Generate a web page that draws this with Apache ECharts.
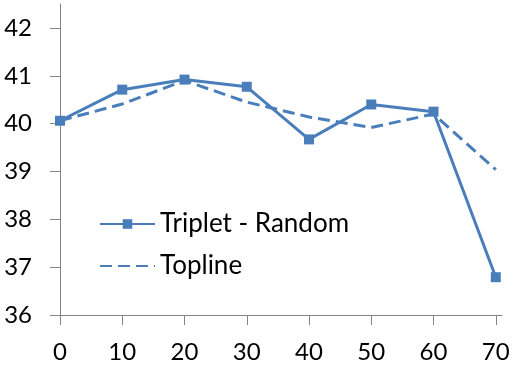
<!DOCTYPE html>
<html><head><meta charset="utf-8">
<script src="https://cdn.jsdelivr.net/npm/echarts@6/dist/echarts.min.js"></script>
<style>html,body{margin:0;padding:0;background:#fff}#c{width:515px;height:367px}</style>
</head><body><div id="c"></div>
<script>
const xValues = [0, 10, 20, 30, 40, 50, 60, 70];
const tripletRandom = [40.06, 40.71, 40.92, 40.77, 39.67, 40.40, 40.25, 36.79];
const topline = [40.06, 40.41, 40.90, 40.45, 40.14, 39.92, 40.20, 39.04];
const yTicks = [36, 37, 38, 39, 40, 41, 42];

const color = '#4A7EBB';
const axisColor = '#868686';
const font = 'Lato';
const chart = echarts.init(document.getElementById('c'));
chart.setOption({
  animation: false,
  grid: { left: 60, right: 13, top: 4, bottom: 52 },
  xAxis: {
    type: 'value', min: 0, max: 71,
    axisLine: { lineStyle: { color: axisColor, width: 1 } },
    axisTick: { show: true, length: 10, inside: false, customValues: xValues, lineStyle: { color: axisColor } },
    axisLabel: { customValues: xValues, margin: 25, color: '#000', fontFamily: font, fontSize: 24 },
    splitLine: { show: false }
  },
  yAxis: {
    type: 'value', min: 36, max: 42.5,
    axisLine: { show: true, lineStyle: { color: axisColor, width: 1 } },
    axisTick: { show: true, length: 10, customValues: yTicks, lineStyle: { color: axisColor } },
    axisLabel: { customValues: yTicks, margin: 28, color: '#000', fontFamily: font, fontSize: 24 },
    splitLine: { show: false }
  },
  legend: {
    orient: 'vertical', left: 94, top: 205,
    itemWidth: 55, itemHeight: 12, itemGap: 14,
    textStyle: { color: '#000', fontFamily: font, fontSize: 26, lineHeight: 28 },
    data: [
      { name: 'Triplet - Random' },
      { name: 'Topline', itemStyle: { opacity: 0 } }
    ]
  },
  series: [
    {
      name: 'Triplet - Random', type: 'line',
      data: xValues.map((x, i) => [x, tripletRandom[i]]),
      symbol: 'rect', symbolSize: 10,
      lineStyle: { color: color, width: 3 },
      itemStyle: { color: color }
    },
    {
      name: 'Topline', type: 'line',
      data: xValues.map((x, i) => [x, topline[i]]),
      symbol: 'none',
      lineStyle: { color: color, width: 3, type: [12, 6] },
      itemStyle: { color: color }
    }
  ]
});
</script></body></html>
